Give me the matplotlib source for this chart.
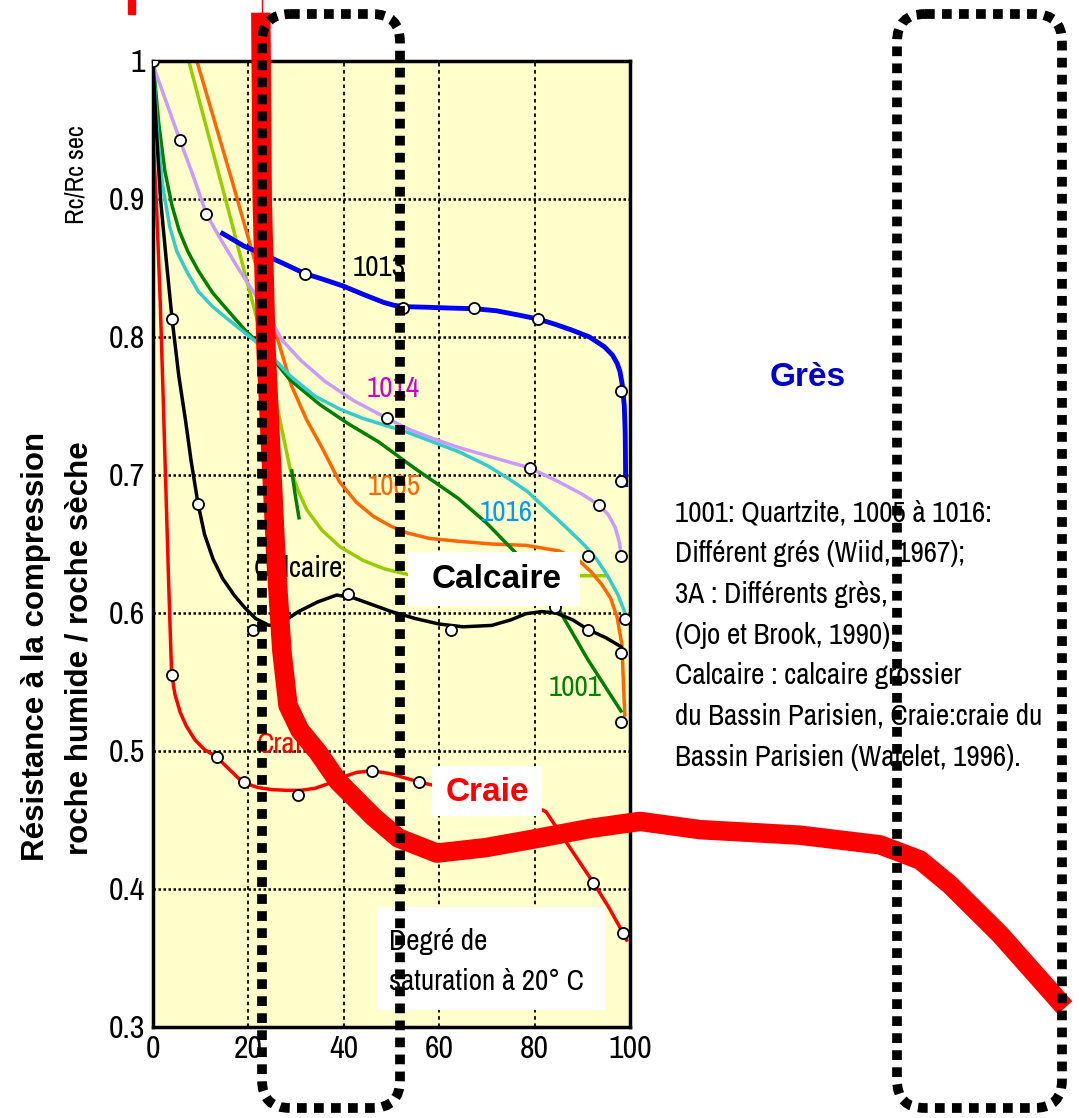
import matplotlib
matplotlib.use('Agg')
import matplotlib.pyplot as plt
from matplotlib.patches import FancyBboxPatch, Rectangle

NARROW = ['Archivo Narrow', 'DejaVu Sans']
ARIAL = ['Liberation Sans', 'DejaVu Sans']

# axes ticks ...................................................................
x_ticks = [0, 20, 40, 60, 80, 100]
y_ticks = [0.3, 0.4, 0.5, 0.6, 0.7, 0.8, 0.9, 1.0]
y_tick_labels = ['0.3', '0.4', '0.5', '0.6', '0.7', '0.8', '0.9', '1']

# grès 1013 (blue)
g1013_x = [14.6, 19.0, 23.7, 27.5, 31.8, 35.5, 39.8, 44.0, 48.4, 50.5, 52.5, 58.0, 62.0, 67.4, 72.0, 76.5,
           80.8, 84.5, 87.8, 91.5, 94.6, 96.3, 97.3, 97.9, 98.4, 98.8, 99.0, 99.1]
g1013_y = [0.875, 0.866, 0.859, 0.853, 0.846, 0.842, 0.837, 0.831, 0.825, 0.823, 0.822, 0.8215, 0.821, 0.8205,
           0.819, 0.816, 0.813, 0.809, 0.805, 0.800, 0.793, 0.787, 0.781, 0.775, 0.765, 0.750, 0.730, 0.693]
g1013_mx = [31.8, 52.5, 67.4, 80.8, 98.2, 98.2]
g1013_my = [0.846, 0.821, 0.821, 0.813, 0.761, 0.696]

# grès 1014 (lavender)
g1014_x = [0, 2.6, 5.6, 8.5, 11.2, 14.5, 18.0, 21.0, 23.8, 27.0, 31.0, 36.0, 42.0, 49.1, 53.7, 59.0, 64.0,
           72.0, 79.1, 85.1, 90.0, 93.6, 95.5, 96.9, 97.8, 98.2, 98.8]
g1014_y = [0.997, 0.972, 0.943, 0.916, 0.889, 0.869, 0.849, 0.833, 0.818, 0.798, 0.783, 0.768, 0.754, 0.741,
           0.733, 0.726, 0.720, 0.712, 0.705, 0.695, 0.686, 0.678, 0.671, 0.662, 0.651, 0.641, 0.638]
g1014_mx = [0, 5.6, 11.2, 49.1, 79.1, 93.6, 98.2]
g1014_my = [1.0, 0.943, 0.889, 0.741, 0.705, 0.678, 0.641]

# grès 1016 (cyan)
g1016_x = [0, 1.0, 2.0, 3.5, 5.0, 7.0, 9.5, 12.5, 16.0, 20.0, 23.5, 28.7, 34.0, 39.0, 44.0, 53.3, 64.0,
           70.0, 74.7, 78.5, 81.6, 86.0, 90.5, 93.0, 95.3, 97.5, 99.4]
g1016_y = [1.0, 0.945, 0.910, 0.880, 0.862, 0.848, 0.833, 0.822, 0.812, 0.801, 0.791, 0.772, 0.757, 0.748,
           0.741, 0.731, 0.717, 0.707, 0.697, 0.688, 0.678, 0.664, 0.649, 0.639, 0.627, 0.613, 0.596]
g1016_mx = [91.2, 99.0]
g1016_my = [0.641, 0.596]

# quartzite 1001 (green)
q1001_x = [0, 1.2, 2.5, 4.0, 5.5, 7.3, 9.5, 12.5, 15.5, 19.3, 23.5, 28.7, 35.0, 41.0, 47.3, 54.8, 64.0,
           70.0, 76.2, 84.5, 91.2, 98.1]
q1001_y = [1.0, 0.955, 0.920, 0.895, 0.877, 0.862, 0.848, 0.832, 0.820, 0.805, 0.791, 0.769, 0.751, 0.737,
           0.724, 0.705, 0.683, 0.665, 0.643, 0.606, 0.566, 0.529]
q1001_mx = [84.2, 98.2]
q1001_my = [0.604, 0.521]

# short green piece (3A)
g3a_x = [29.1, 29.8, 30.6]
g3a_y = [0.703, 0.686, 0.669]

# grès 1005 (orange)
g1005_x = [9.2, 16.5, 23.5, 26.0, 29.0, 32.2, 35.4, 39.1, 42.7, 46.2, 49.8, 53.3, 58.0, 64.0, 71.0, 78.2,
           85.1, 89.0, 91.8, 94.0, 95.9, 97.3, 98.3, 98.9]
g1005_y = [1.0, 0.914, 0.829, 0.800, 0.765, 0.740, 0.720, 0.695, 0.680, 0.670, 0.663, 0.658, 0.654, 0.652,
           0.650, 0.649, 0.645, 0.639, 0.630, 0.621, 0.611, 0.597, 0.577, 0.526]

# grès 3A (lime)
g3b_x = [7.5, 11.5, 15.5, 19.5, 23.5, 26.0, 28.7, 30.5, 32.2, 35.4, 39.2, 44.1, 48.5, 53.3, 65.0, 80.0, 94.7]
g3b_y = [1.0, 0.948, 0.896, 0.843, 0.791, 0.750, 0.705, 0.688, 0.675, 0.660, 0.648, 0.638, 0.632, 0.628,
         0.627, 0.627, 0.627]

# calcaire (black)
calc_x = [0, 0.7, 1.6, 2.8, 4.0, 5.4, 6.8, 8.0, 9.4, 10.8, 12.6, 14.6, 17.0, 19.2, 21.5, 24.3, 27.0, 30.5,
          34.5, 38.5, 42.0, 46.0, 50.0, 55.0, 60.0, 65.0, 71.0, 75.0, 78.2, 81.5, 84.5, 88.0, 91.2, 95.0, 98.1]
calc_y = [0.998, 0.950, 0.899, 0.855, 0.813, 0.772, 0.740, 0.710, 0.680, 0.657, 0.639, 0.625, 0.613, 0.604,
          0.596, 0.591, 0.593, 0.601, 0.608, 0.613, 0.611, 0.606, 0.601, 0.596, 0.592, 0.590, 0.591, 0.595,
          0.5995, 0.601, 0.600, 0.595, 0.588, 0.582, 0.5756]
calc_mx = [4.0, 9.4, 21.0, 40.8, 62.4, 91.2, 98.2]
calc_my = [0.813, 0.679, 0.588, 0.614, 0.588, 0.588, 0.571]

# craie (red)
craie_x = [0, 0.8, 1.5, 2.1, 2.7, 3.3, 3.9, 4.6, 5.7, 7.0, 8.8, 10.8, 13.4, 15.0, 16.5, 18.0, 19.5, 22.0,
           25.0, 28.0, 31.0, 34.0, 36.5, 38.5, 40.5, 42.7, 45.9, 49.8, 55.8, 61.1, 70.0, 78.0, 82.4, 87.0,
           92.3, 95.5, 98.5, 99.3]
craie_y = [0.946, 0.890, 0.827, 0.760, 0.690, 0.620, 0.556, 0.541, 0.528, 0.518, 0.508, 0.501, 0.4956, 0.490,
           0.485, 0.480, 0.4765, 0.4735, 0.472, 0.4715, 0.4715, 0.473, 0.476, 0.479, 0.482, 0.4845, 0.4857,
           0.4835, 0.4775, 0.4733, 0.468, 0.463, 0.456, 0.432, 0.4047, 0.387, 0.3684, 0.363]
craie_mx = [3.9, 13.4, 19.0, 30.5, 45.9, 55.8, 92.3, 98.5]
craie_my = [0.555, 0.4956, 0.4775, 0.4684, 0.4857, 0.4775, 0.4047, 0.3684]

# thick red trend (runs beyond the axes to the right)
trend_x = [22.6, 22.9, 23.7, 24.7, 25.8, 27.0, 28.3, 30.8, 34.6, 38.8, 46.3, 51.4, 59.5, 69.8, 79.5, 91.8,
           102.1, 114.7, 135.6, 152.4, 160.8, 167.1, 177.6, 191.2]
trend_y = [1.035, 0.899, 0.791, 0.718, 0.638, 0.573, 0.533, 0.515, 0.499, 0.478, 0.452, 0.437, 0.426, 0.430,
           0.436, 0.444, 0.449, 0.443, 0.439, 0.432, 0.421, 0.403, 0.367, 0.314]

legend_lines = [
    '1001: Quartzite, 1005 à 1016:',
    'Différent grés (Wiid, 1967);',
    '3A : Différents grès,',
    '(Ojo et Brook, 1990);',
    'Calcaire : calcaire grossier',
    'du Bassin Parisien, Craie:craie du',
    'Bassin Parisien (Watelet, 1996).',
]


def main():
    fig = plt.figure(figsize=(10.79, 11.18), dpi=100)
    ax = fig.add_axes([153 / 1079, 1 - 1027 / 1118, 477 / 1079, 966 / 1118])
    ax.set_facecolor('#ffffcc')
    ax.set_xlim(0, 100)
    ax.set_ylim(0.3, 1.0)
    for s in ax.spines.values():
        s.set_linewidth(2.5)
    ax.set_xticks(x_ticks)
    ax.set_xticklabels([str(t) for t in x_ticks])
    ax.set_yticks(y_ticks)
    ax.set_yticklabels(y_tick_labels)
    ax.tick_params(length=0, labelsize=23, pad=6)
    for lab in ax.get_xticklabels() + ax.get_yticklabels():
        lab.set_family(NARROW)

    # grid ....................................................................
    for v in x_ticks[1:-1]:
        ax.axvline(v, color='k', lw=1.3, ls=(0, (2, 2)), zorder=1)
    for h in y_ticks[1:-1]:
        ax.axhline(h, color='k', lw=1.8, ls=(0, (1, 1)), zorder=1)

    # curves ..................................................................
    ax.plot(g3b_x, g3b_y, color='#99cc00', lw=2.5, zorder=2)
    ax.plot(g1005_x, g1005_y, color='#ff6600', lw=2.5, zorder=2)
    ax.plot(q1001_x, q1001_y, color='#008000', lw=2.5, zorder=2)
    ax.plot(g3a_x, g3a_y, color='#008000', lw=2.5, zorder=2)
    ax.plot(g1016_x, g1016_y, color='#33cccc', lw=2.5, zorder=2)
    ax.plot(g1014_x, g1014_y, color='#cc99ff', lw=2.5, zorder=2)
    ax.plot(g1013_x, g1013_y, color='#0000ff', lw=3.5, zorder=2)
    ax.plot(calc_x, calc_y, color='k', lw=2.5, zorder=2)
    ax.plot(craie_x, craie_y, color='#ff0000', lw=2.5, zorder=2)

    mk = dict(ls='none', marker='o', ms=8, mfc='white', mec='k', mew=1.3, zorder=3)
    for mx, my in [(g1013_mx, g1013_my), (g1014_mx, g1014_my), (g1016_mx, g1016_my),
                   (q1001_mx, q1001_my), (calc_mx, calc_my), (craie_mx, craie_my)]:
        ax.plot(mx, my, **mk)

    # curve labels ............................................................
    lab = dict(fontsize=21, family=NARROW, ha='center', va='center', zorder=4)
    ax.text(47.4, 0.850, '1013', color='k', **lab)
    ax.text(50.3, 0.763, '1014', color='#cc00cc', **lab)
    ax.text(50.6, 0.692, '1005', color='#ff6600', **lab)
    ax.text(74.0, 0.673, '1016', color='#0099ff', **lab)
    ax.text(88.6, 0.546, '1001', color='#008000', **lab)
    ax.text(30.5, 0.632, 'Calcaire', color='k', **lab)
    ax.text(28.0, 0.505, 'Craie', color='#ff0000', **lab)

    # white boxes .............................................................
    ax.add_patch(Rectangle((53.5, 0.605), 36.0, 0.039, fc='white', ec='none', zorder=4))
    ax.text(72.0, 0.624, 'Calcaire', fontsize=24, fontweight='bold', family=ARIAL,
            ha='center', va='center', zorder=5)
    ax.add_patch(Rectangle((58.5, 0.453), 23.0, 0.036, fc='white', ec='none', zorder=4))
    ax.text(70.0, 0.470, 'Craie', color='#ff0000', fontsize=24, fontweight='bold', family=ARIAL,
            ha='center', va='center', zorder=5)
    ax.add_patch(Rectangle((47.0, 0.312), 47.8, 0.075, fc='white', ec='none', zorder=4))
    ax.text(49.5, 0.362, 'Degré de', fontsize=21, family=NARROW, ha='left', va='center', zorder=5)
    ax.text(49.5, 0.333, 'saturation à 20° C', fontsize=21, family=NARROW, ha='left', va='center', zorder=5)

    # thick red trend ..........................................................
    ax.plot(trend_x, trend_y, color='#ff0000', lw=14, solid_capstyle='butt',
            solid_joinstyle='round', clip_on=False, zorder=6)

    # texts outside the axes ...................................................
    fig.text(36 / 1079, 1 - 646 / 1118, 'Résistance à la compression', rotation=90,
             fontsize=22.5, fontweight='bold', family=ARIAL, ha='center', va='center')
    fig.text(80 / 1079, 1 - 648 / 1118, 'roche humide / roche sèche', rotation=90,
             fontsize=22.5, fontweight='bold', family=ARIAL, ha='center', va='center')
    fig.text(76 / 1079, 1 - 175 / 1118, 'Rc/Rc sec', rotation=90,
             fontsize=19, family=NARROW, ha='center', va='center')
    fig.text(808 / 1079, 1 - 378 / 1118, 'Grès', color='#0000cc', fontsize=24,
             fontweight='bold', family=ARIAL, ha='center', va='center')
    for i, line in enumerate(legend_lines):
        fig.text(675 / 1079, 1 - (513 + i * 40.7) / 1118, line, fontsize=21,
                 family=NARROW, ha='left', va='center')

    # dotted frames, in pixel units ...........................................
    ov = fig.add_axes([0, 0, 1, 1], zorder=10)
    ov.set_xlim(0, 1079)
    ov.set_ylim(1118, 0)
    ov.axis('off')
    ov.patch.set_alpha(0)
    for x0, x1 in [(262, 400), (897, 1062)]:
        ov.add_patch(FancyBboxPatch((x0, 14), x1 - x0, 1094,
                                    boxstyle='round,pad=0,rounding_size=28',
                                    fill=False, ec='k', lw=7, ls=(0, (1, 0.75)),
                                    capstyle='butt'))
    ov.plot([262, 262], [0, 14], color='#ff0000', lw=1)
    ov.add_patch(Rectangle((128, 0), 7, 14, color='#ff0000'))

    fig.savefig('out.png', dpi=100)


if __name__ == '__main__':
    main()
